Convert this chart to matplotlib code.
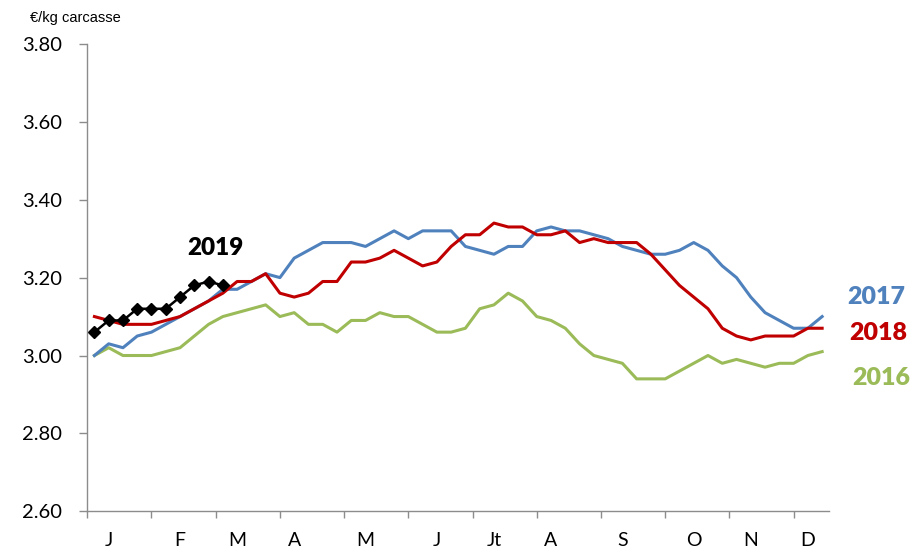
import matplotlib.pyplot as plt
import numpy as np

# weekly prices, 52 weeks per year (euros per kg carcass)
weeks = np.arange(52) + 0.5

price_2016 = [3.00, 3.02, 3.00, 3.00, 3.00, 3.01, 3.02, 3.05, 3.08, 3.10,
              3.11, 3.12, 3.13, 3.10, 3.11, 3.08, 3.08, 3.06, 3.09, 3.09,
              3.11, 3.10, 3.10, 3.08, 3.06, 3.06, 3.07, 3.12, 3.13, 3.16,
              3.14, 3.10, 3.09, 3.07, 3.03, 3.00, 2.99, 2.98, 2.94, 2.94,
              2.94, 2.96, 2.98, 3.00, 2.98, 2.99, 2.98, 2.97, 2.98, 2.98,
              3.00, 3.01]

price_2017 = [3.00, 3.03, 3.02, 3.05, 3.06, 3.08, 3.10, 3.12, 3.14, 3.17,
              3.17, 3.19, 3.21, 3.20, 3.25, 3.27, 3.29, 3.29, 3.29, 3.28,
              3.30, 3.32, 3.30, 3.32, 3.32, 3.32, 3.28, 3.27, 3.26, 3.28,
              3.28, 3.32, 3.33, 3.32, 3.32, 3.31, 3.30, 3.28, 3.27, 3.26,
              3.26, 3.27, 3.29, 3.27, 3.23, 3.20, 3.15, 3.11, 3.09, 3.07,
              3.07, 3.10]

price_2018 = [3.10, 3.09, 3.08, 3.08, 3.08, 3.09, 3.10, 3.12, 3.14, 3.16,
              3.19, 3.19, 3.21, 3.16, 3.15, 3.16, 3.19, 3.19, 3.24, 3.24,
              3.25, 3.27, 3.25, 3.23, 3.24, 3.28, 3.31, 3.31, 3.34, 3.33,
              3.33, 3.31, 3.31, 3.32, 3.29, 3.30, 3.29, 3.29, 3.29, 3.26,
              3.22, 3.18, 3.15, 3.12, 3.07, 3.05, 3.04, 3.05, 3.05, 3.05,
              3.07, 3.07]

price_2019 = [3.06, 3.09, 3.09, 3.12, 3.12, 3.12, 3.15, 3.18, 3.19, 3.18]

# month labels sit on the first week of each month
month_weeks = [1, 6, 10, 14, 19, 24, 28, 32, 37, 42, 46, 50]
month_labels = ['J', 'F', 'M', 'A', 'M', 'J', 'Jt', 'A', 'S', 'O', 'N', 'D']
y_ticks = [2.60, 2.80, 3.00, 3.20, 3.40, 3.60, 3.80]

blue = '#4F81BD'
red = '#C00000'
green = '#9BBB59'
axis_grey = '#8C8C8C'

fig = plt.figure(figsize=(9.14, 5.53), dpi=100)
ax = fig.add_axes([0.0955, 0.0754, 0.8118, 0.8452])

ax.plot(weeks, price_2016, color=green, linewidth=2.2, solid_joinstyle='round')
ax.plot(weeks, price_2017, color=blue, linewidth=2.2, solid_joinstyle='round')
ax.plot(weeks, price_2018, color=red, linewidth=2.2, solid_joinstyle='round')
ax.plot(weeks[:len(price_2019)], price_2019, color='black', linewidth=1.8,
        marker='D', markersize=6.5)

ax.set_xlim(0, 52)
ax.set_ylim(2.60, 3.80)

ax.set_yticks(y_ticks)
ax.set_yticklabels(['%.2f' % v for v in y_ticks], fontfamily='Lato', fontsize=14.5)
ax.tick_params(axis='y', direction='out', length=6, width=1, color=axis_grey, pad=12)

ax.set_xticks(np.array(month_weeks) + 0.5)
ax.set_xticklabels(month_labels, fontfamily='Lato', fontsize=14)
ax.tick_params(axis='x', which='major', length=0, pad=15)
ax.set_xticks(np.arange(0, 52, 4.5), minor=True)
ax.tick_params(axis='x', which='minor', direction='out', length=5, width=1, color=axis_grey)

for side in ['top', 'right']:
    ax.spines[side].set_visible(False)
for side in ['left', 'bottom']:
    ax.spines[side].set_color(axis_grey)
    ax.spines[side].set_linewidth(1)

fig.text(0.083, 0.968, '€/kg carcasse', fontfamily='Liberation Sans', fontsize=10.5,
         ha='center', va='center')

fig.text(876.7 / 914, 1 - 296.7 / 553, '2017', color=blue, fontfamily='Lato',
         fontweight='heavy', fontsize=18, ha='center', va='center')
fig.text(878 / 914, 1 - 333 / 553, '2018', color=red, fontfamily='Lato',
         fontweight='heavy', fontsize=18, ha='center', va='center')
fig.text(881.7 / 914, 1 - 378.3 / 553, '2016', color=green, fontfamily='Lato',
         fontweight='heavy', fontsize=18, ha='center', va='center')
fig.text(215 / 914, 1 - 247.7 / 553, '2019', color='black', fontfamily='Lato',
         fontweight='heavy', fontsize=17.5, ha='center', va='center')

fig.savefig('out.png', dpi=100)
plt.close(fig)
